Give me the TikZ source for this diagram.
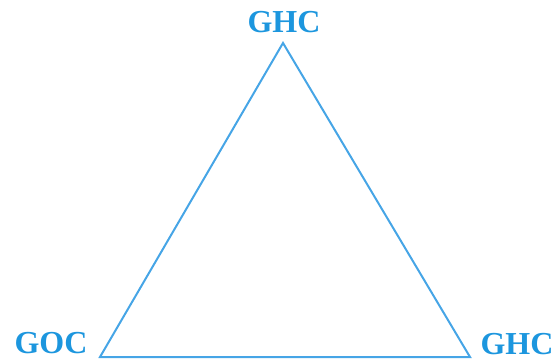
\documentclass[tikz,border=0pt]{standalone}
\usepackage{fontspec}
\setmainfont{Liberation Serif}
\definecolor{lbl}{RGB}{28,150,222}
\definecolor{edge}{RGB}{70,165,230}
\tikzset{
  vlabel/.style={text=lbl, font=\fontsize{32}{34}\selectfont\bfseries, inner sep=0pt, anchor=center},
  tri/.style={draw=edge, line width=2pt, line join=miter}
}
\begin{document}
\begin{tikzpicture}[x=1pt,y=-1pt]
\useasboundingbox (0,0) rectangle (560,360);
\coordinate (T) at (283,43);
\coordinate (L) at (100,357);
\coordinate (R) at (470,357);
\draw[tri] (T) -- (L) -- (R) -- cycle;
\node[vlabel] (top) at (284,22) {GHC};
\node[vlabel] (left) at (51,343) {GOC};
\node[vlabel] (right) at (517,344) {GHC};
\end{tikzpicture}
\end{document}
